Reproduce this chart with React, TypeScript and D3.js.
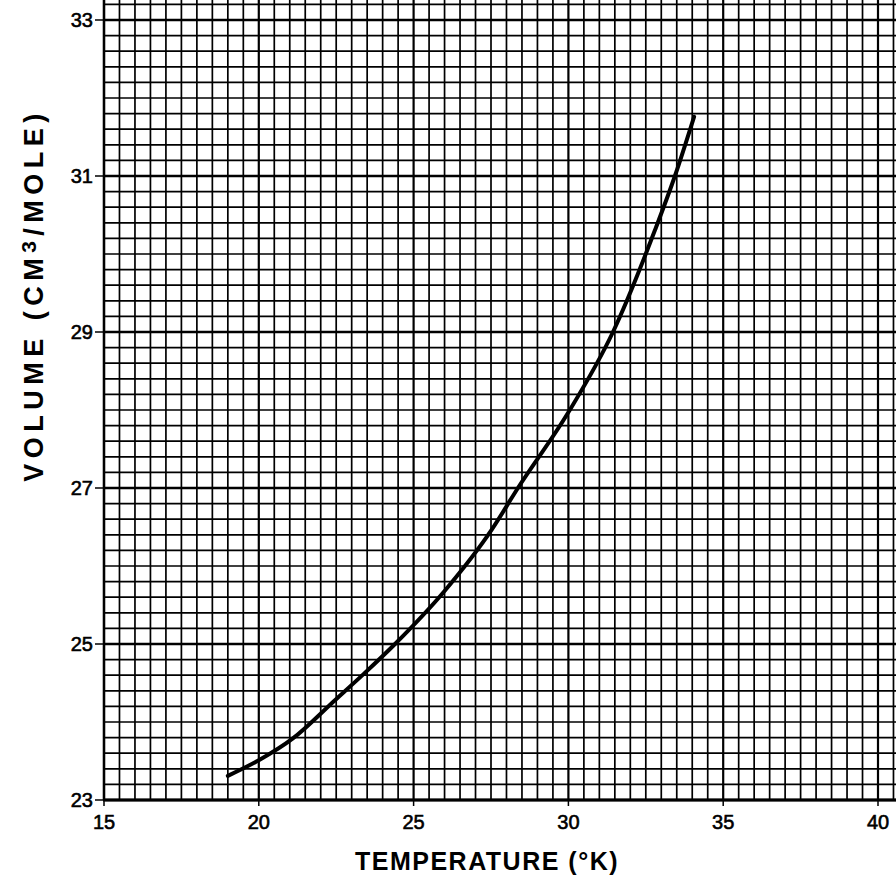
import React from "react";
import * as d3 from "d3";

const tempTicks = [15, 20, 25, 30, 35, 40];
const volTicks = [23, 25, 27, 29, 31, 33];
const curveT = [19.0, 20.0, 21.1, 22.46, 23.4, 24.4, 26.0, 27.53, 28.37, 30.0, 31.44, 32.8, 33.44, 34.06];
const curveV = [23.31, 23.51, 23.79, 24.28, 24.62, 25.0, 25.68, 26.47, 27.0, 27.97, 29.0, 30.31, 31.0, 31.76];

const W = 896;
const H = 880;

export default function App() {
  const x = d3.scaleLinear().domain([15, 40]).range([104, 878]);
  const y = d3.scaleLinear().domain([23, 33]).range([800, 20]);

  const vLines = d3.range(0, 55).map((i) => 15 + i * 0.5).filter((t) => x(t) <= W + 2);
  const hLines = d3.range(0, 53).map((i) => 23 + i * 0.2).filter((v) => y(v) >= -2);

  const isMajorT = (t: number) => Math.abs(t / 5 - Math.round(t / 5)) < 1e-6;
  const isMajorV = (v: number) => Math.abs((v - 23) / 2 - Math.round((v - 23) / 2)) < 1e-6;

  const pts = curveT.map((t, i) => [t, curveV[i]] as [number, number]);
  const line = d3
    .line<[number, number]>()
    .x((d) => x(d[0]))
    .y((d) => y(d[1]))
    .curve(d3.curveMonotoneX);

  const font = "'Liberation Sans', Arial, sans-serif";

  return (
    <svg
      width={W}
      height={H}
      style={{ position: "absolute", left: 0, top: 0, background: "#fff" }}
    >
      <rect x={0} y={0} width={W} height={H} fill="#fff" />
      <g>
        {vLines.map((t) => (
          <line
            key={"v" + t}
            x1={x(t)}
            x2={x(t)}
            y1={0}
            y2={y(23)}
            stroke="#000"
            strokeWidth={isMajorT(t) ? 2.2 : 1.7}
          />
        ))}
        {hLines.map((v) => (
          <line
            key={"h" + v}
            x1={x(15)}
            x2={W}
            y1={y(v)}
            y2={y(v)}
            stroke="#000"
            strokeWidth={isMajorV(v) ? 2.4 : 1.7}
          />
        ))}
        <line x1={x(15) - 1} x2={W} y1={y(23)} y2={y(23)} stroke="#000" strokeWidth={3} />
        <line x1={x(15)} x2={x(15)} y1={0} y2={y(23)} stroke="#000" strokeWidth={2.4} />
      </g>
      <g>
        {tempTicks.map((t) => (
          <g key={"xt" + t}>
            <line x1={x(t)} x2={x(t)} y1={y(23)} y2={y(23) + 6} stroke="#000" strokeWidth={1.5} />
            <text
              x={x(t)}
              y={y(23) + 29}
              textAnchor="middle"
              fontFamily={font}
              fontSize={20}
              fill="#000"
              stroke="#000"
              strokeWidth={0.6}
            >
              {t}
            </text>
          </g>
        ))}
        {volTicks.map((v) => (
          <g key={"yt" + v}>
            <line x1={x(15) - 9} x2={x(15)} y1={y(v)} y2={y(v)} stroke="#000" strokeWidth={1.5} />
            <text
              x={x(15) - 11}
              y={y(v) + 7}
              textAnchor="end"
              fontFamily={font}
              fontSize={20}
              fill="#000"
              stroke="#000"
              strokeWidth={0.6}
            >
              {v}
            </text>
          </g>
        ))}
      </g>
      <path d={line(pts) ?? ""} fill="none" stroke="#000" strokeWidth={4} strokeLinecap="round" />
      <text
        x={487}
        y={870}
        textAnchor="middle"
        fontFamily={font}
        fontWeight="bold"
        fontSize={25}
        letterSpacing={1.5}
        fill="#000"
      >
        TEMPERATURE (°K)
      </text>
      <text
        transform={`translate(43, 295) rotate(-90)`}
        textAnchor="middle"
        fontFamily={font}
        fontWeight="bold"
        fontSize={27}
        letterSpacing={5.5}
        fill="#000"
      >
        VOLUME (CM
        <tspan dy={-7} fontSize={21}>3</tspan>
        <tspan dy={7}>/MOLE)</tspan>
      </text>
    </svg>
  );
}
